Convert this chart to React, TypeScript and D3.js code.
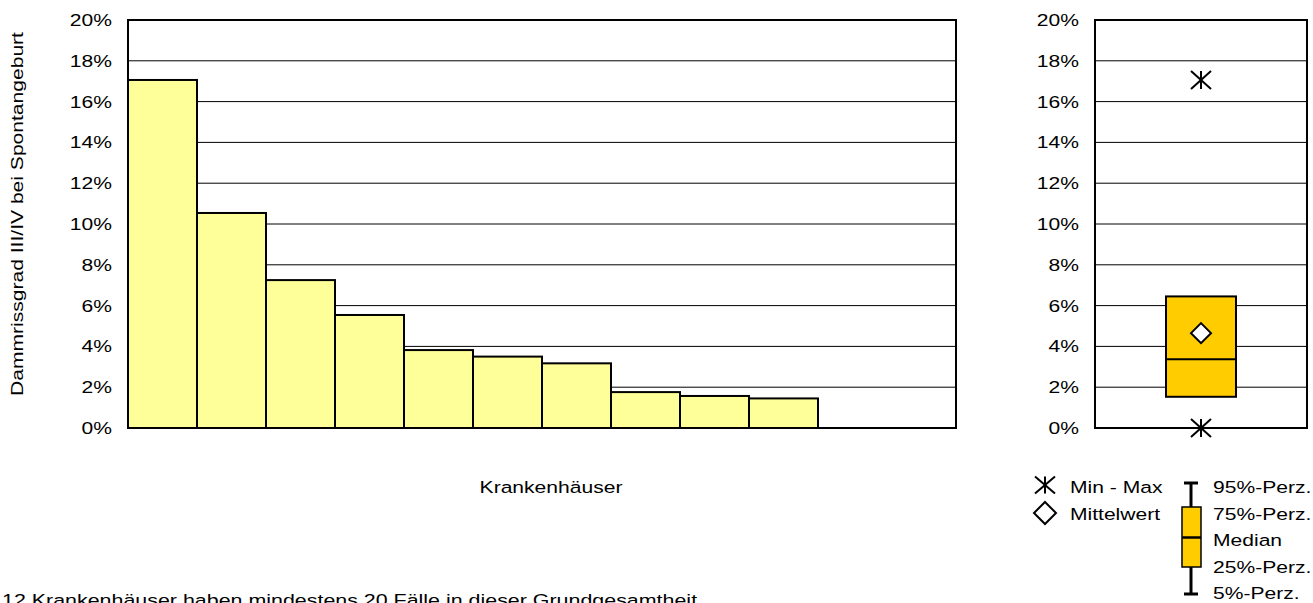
import React from "react";
import * as d3 from "d3";

const hospitals = ["K1","K2","K3","K4","K5","K6","K7","K8","K9","K10","K11","K12"];
const rates = [17.06, 10.54, 7.25, 5.54, 3.82, 3.5, 3.17, 1.76, 1.57, 1.45, 0, 0];
const yTicks = [0, 2, 4, 6, 8, 10, 12, 14, 16, 18, 20];
const boxStats = { min: 0, q1: 1.53, median: 3.37, q3: 6.45, max: 17.06, mean: 4.65 };
const legendLeft = ["Min - Max", "Mittelwert"];
const legendRight = ["95%-Perz.", "75%-Perz.", "Median", "25%-Perz.", "5%-Perz."];
const yTitle = "Dammrissgrad III/IV bei Spontangeburt";
const xTitle = "Krankenhäuser";
const footer = "12 Krankenhäuser haben mindestens 20 Fälle in dieser Grundgesamtheit.";

const FONT = "Arial, 'Liberation Sans', sans-serif";
const FS = 17;
const SX = 1.24;

function T({ x, y, children, anchor = "start", rotate = 0, sx = SX }:
  { x: number; y: number; children: React.ReactNode; anchor?: string; rotate?: number; sx?: number }) {
  return (
    <text transform={`translate(${x},${y}) rotate(${rotate}) scale(${sx},1)`} textAnchor={anchor}
      fontSize={FS} fontFamily={FONT} fill="#000">{children}</text>
  );
}

function Star({ x, y, rx, ry }: { x: number; y: number; rx: number; ry: number }) {
  return (
    <g stroke="#000" strokeWidth={2}>
      <line x1={x} y1={y - ry} x2={x} y2={y + ry} />
      <line x1={x - rx} y1={y - ry} x2={x + rx} y2={y + ry} />
      <line x1={x - rx} y1={y + ry} x2={x + rx} y2={y - ry} />
    </g>
  );
}

function Diamond({ x, y, r }: { x: number; y: number; r: number }) {
  return (
    <path d={`M${x},${y - r}L${x + r},${y}L${x},${y + r}L${x - r},${y}Z`} fill="#fff" stroke="#000" strokeWidth={2} />
  );
}

export default function App() {
  const top = 20, bottom = 428;
  const y = d3.scaleLinear().domain([0, 20]).range([bottom, top]);
  const x = d3.scaleBand().domain(hospitals).range([128, 956]).padding(0);
  const bxL = 1095, bxR = 1307;
  const boxW = 70;
  const boxCx = 1201;

  const yLabels = (right: number) =>
    yTicks.map((t) => (
      <T key={t} x={right} y={y(t) + 6} anchor="end">{t}%</T>
    ));

  const grid = (l: number, r: number) =>
    yTicks.filter((t) => t > 0 && t < 20).map((t) => (
      <line key={t} x1={l} x2={r} y1={y(t)} y2={y(t)} stroke="#000" strokeWidth={1} />
    ));

  return (
    <svg width={1313} height={603} style={{ position: "absolute", left: 0, top: 0, background: "#fff" }}>
      {/* Bar chart */}
      {grid(128, 956)}
      {hospitals.map((h, i) =>
        rates[i] > 0 ? (
          <rect key={h} x={x(h)!} y={y(rates[i])} width={x.bandwidth()} height={y(0) - y(rates[i])}
            fill="#FFFF99" stroke="#000" strokeWidth={2} />
        ) : null
      )}
      <rect x={128} y={top} width={956 - 128} height={bottom - top} fill="none" stroke="#000" strokeWidth={2} />
      {yLabels(112)}
      <T x={23} y={214} anchor="middle" rotate={-90}>{yTitle}</T>
      <T x={551} y={493} anchor="middle">{xTitle}</T>

      {/* Box plot */}
      {grid(bxL, bxR)}
      <rect x={boxCx - boxW / 2} y={y(boxStats.q3)} width={boxW} height={y(boxStats.q1) - y(boxStats.q3)}
        fill="#FFCC00" stroke="#000" strokeWidth={2} />
      <line x1={boxCx - boxW / 2} x2={boxCx + boxW / 2} y1={y(boxStats.median)} y2={y(boxStats.median)}
        stroke="#000" strokeWidth={2} />
      <Diamond x={boxCx} y={y(boxStats.mean)} r={10} />
      <Star x={boxCx} y={y(boxStats.max)} rx={10} ry={9} />
      <Star x={boxCx} y={y(boxStats.min)} rx={10} ry={9} />
      <rect x={bxL} y={top} width={bxR - bxL} height={bottom - top} fill="none" stroke="#000" strokeWidth={2} />
      {yLabels(1079)}

      {/* Legend */}
      <Star x={1045} y={485} rx={10} ry={8.5} />
      <Diamond x={1045} y={513} r={11} />
      {legendLeft.map((t, i) => (
        <T key={t} x={1070} y={493 + i * 26.5}>{t}</T>
      ))}
      <g stroke="#000">
        <line x1={1191} x2={1191} y1={483} y2={594} strokeWidth={3} />
        <line x1={1184} x2={1198} y1={483} y2={483} strokeWidth={3} />
        <line x1={1184} x2={1198} y1={594} y2={594} strokeWidth={3} />
        <rect x={1182} y={507} width={19} height={60} fill="#FFCC00" strokeWidth={1.5} />
        <line x1={1182} x2={1201} y1={537.5} y2={537.5} strokeWidth={2.5} />
      </g>
      {legendRight.map((t, i) => (
        <T key={t} x={1213} y={493 + i * 26.6}>{t}</T>
      ))}

      <T x={2} y={606} sx={1.26}>{footer}</T>
    </svg>
  );
}
